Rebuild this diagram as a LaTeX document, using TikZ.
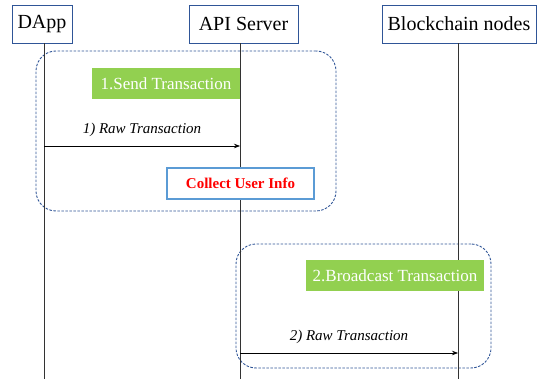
\documentclass[tikz,border=0pt]{standalone}
\usepackage{fontspec}
\setmainfont{Liberation Serif}
\usetikzlibrary{arrows.meta,positioning}
\definecolor{frameblue}{HTML}{2F5597}
\definecolor{boxblue}{HTML}{5B9BD5}
\definecolor{stepgreen}{HTML}{92D050}
\tikzset{
  actor/.style={draw=frameblue,line width=0.9pt,fill=white,inner sep=0pt,minimum height=38pt,font=\fontsize{20}{22}\selectfont},
  lifeline/.style={draw=black!80,line width=0.9pt},
  phase/.style={draw=frameblue,line width=0.9pt,dash pattern=on 2.5pt off 1.5pt,rounded corners=20pt,inner sep=0pt},
  stage/.style={fill=stepgreen,text=white,inner sep=0pt,minimum height=31pt,font=\fontsize{17}{19}\selectfont},
  msg/.style={draw=black,line width=0.7pt,-{Stealth[length=6pt,width=4.5pt]}},
  msglabel/.style={font=\fontsize{15}{17}\selectfont\itshape,above=6pt},
  task/.style={draw=boxblue,line width=1.2pt,fill=white,inner sep=0pt,minimum width=147pt,minimum height=31pt,text=red,font=\fontsize{15}{17}\selectfont\bfseries}
}
\begin{document}
\begin{tikzpicture}[x=1pt,y=-1pt]
   \useasboundingbox (0,0) rectangle (538,379); % page size
   \node[phase,minimum width=300pt,minimum height=160pt] (send) at (186,131) {}; % phase 1 frame
   \node[phase,minimum width=255pt,minimum height=124pt] (cast) at (363.5,306) {}; % phase 2 frame
   \node[actor,minimum width=60pt] (dapp) at (42,24) {DApp}; % DApp
   \node[actor,minimum width=109pt] (api) at (243.5,24) {API Server}; % API server
   \node[actor,minimum width=154pt] (chain) at (459,24) {Blockchain nodes}; % chain nodes
   \coordinate (dappEnd) at (44,379); % lifeline ends
   \coordinate (apiEnd) at (240,379);
   \coordinate (chainEnd) at (458,379);
   \draw[lifeline] (dapp.south -| dappEnd) -- (dappEnd); % DApp lifeline
   \draw[lifeline] (api.south -| apiEnd) -- (apiEnd); % API lifeline
   \draw[lifeline] (chain.south -| chainEnd) -- (chainEnd); % chain lifeline
   \node[stage,minimum width=148pt] (step1) at (166,83.5) {1.Send Transaction}; % step 1
   \node[stage,minimum width=178pt] (step2) at (395,275.5) {2.Broadcast Transaction}; % step 2
   \coordinate (raw1s) at (44,146); % message 1
   \coordinate (raw1e) at (240,146);
   \draw[msg] (raw1s) -- node[msglabel] (raw1) {1) Raw Transaction} (raw1e);
   \node[task] (collect) at (240.5,183.5) {Collect User Info}; % collect info
   \coordinate (raw2s) at (240,353); % message 2
   \coordinate (raw2e) at (458,353);
   \draw[msg] (raw2s) -- node[msglabel] (raw2) {2) Raw Transaction} (raw2e);
\end{tikzpicture}
\end{document}
